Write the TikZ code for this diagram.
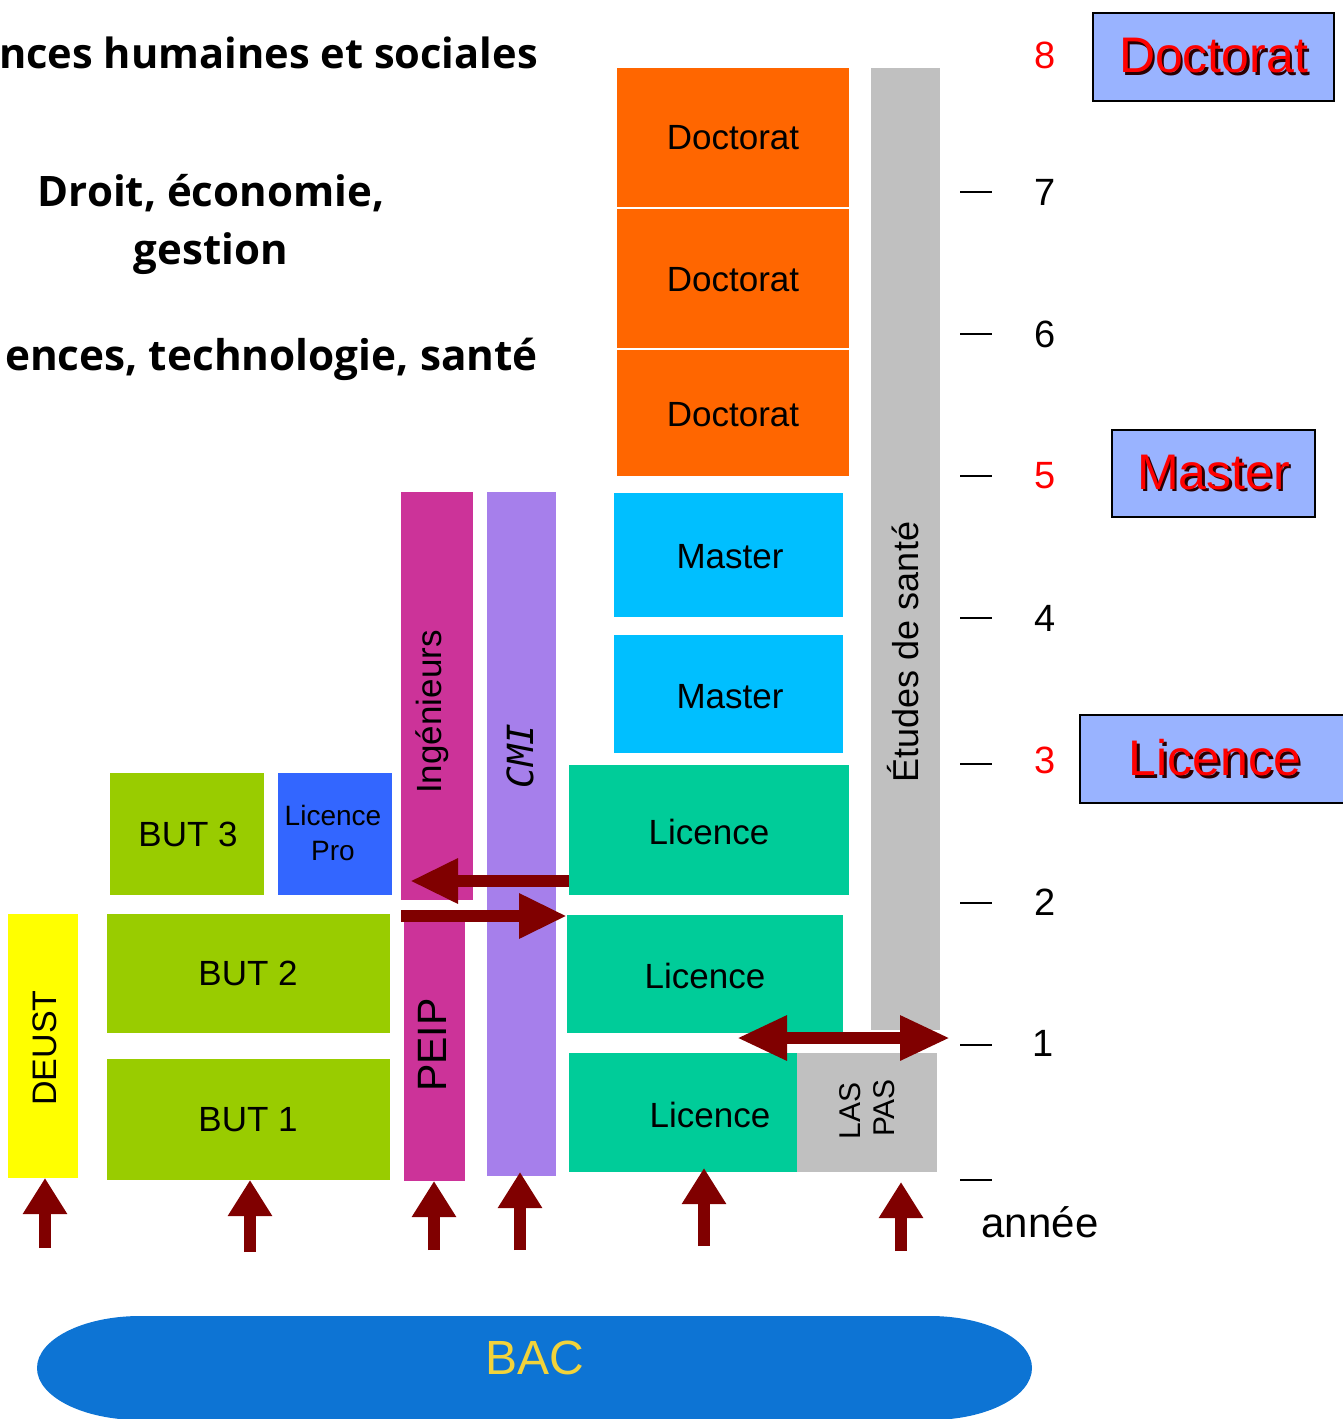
\documentclass[tikz,border=0pt]{standalone}
\usepackage{fontspec}
\setmainfont{Liberation Sans}
\newfontfamily\titlefont{Open Sans}
\newfontfamily\cmifont{DejaVu Sans Mono}
\usetikzlibrary{arrows.meta,calc}
\definecolor{orng}{HTML}{FF6600}
\definecolor{cyanb}{HTML}{00BFFF}
\definecolor{licgreen}{HTML}{00CC99}
\definecolor{greyb}{HTML}{C0C0C0}
\definecolor{magb}{HTML}{CC3399}
\definecolor{lavb}{HTML}{A67FEB}
\definecolor{limeb}{HTML}{99CC00}
\definecolor{problue}{HTML}{3366FF}
\definecolor{yelb}{HTML}{FFFF00}
\definecolor{arrred}{HTML}{800000}
\definecolor{peri}{HTML}{99B3FF}
\definecolor{bacblue}{HTML}{0D74D4}
\definecolor{bacyel}{HTML}{F2D33A}
\definecolor{redtxt}{HTML}{FF0000}
\definecolor{shad}{HTML}{2A0000}
\newcommand\mybox[7][]{%
  \node[blk,fill=#3,minimum width={(#6)-(#4)},minimum height={(#7)-(#5)},#1] (#2) at ({((#4)+(#6))/2},{((#5)+(#7))/2}) {};}
\newcommand\shadowed[1]{\makebox[0pt][l]{\hspace*{2.5pt}\raisebox{-2.5pt}{\color{shad}#1}}#1}
\begin{document}
\begin{tikzpicture}[x=1pt,y=-1pt,
  blk/.style={draw=none,inner sep=0pt,outer sep=0pt,rectangle},
  lbl/.style={font=\fontsize{35}{40}\selectfont,inner sep=0pt},
  vlbl/.style={lbl,rotate=90},
  title/.style={font=\titlefont\bfseries\fontsize{42}{50}\selectfont,inner sep=0pt},
  yr/.style={font=\fontsize{38}{40}\selectfont,inner sep=0pt},
  yrred/.style={yr,text=redtxt},
  tickline/.style={line width=2.5pt,black},
  bigbox/.style={draw=black,line width=2.5pt,fill=peri,inner sep=0pt,rectangle},
  bigred/.style={font=\fontsize{50}{56}\selectfont,text=redtxt,inner sep=0pt},
  uparr/.style={draw=arrred,line width=12pt,-{Triangle[width=42pt,length=36pt]}},
  harr/.style={draw=arrred,line width=12pt,-{Triangle[width=42pt,length=48pt]}},
  dharr/.style={draw=arrred,line width=12pt,{Triangle[width=42pt,length=50pt]}-{Triangle[width=42pt,length=50pt]}}
]
\useasboundingbox (0,0) rectangle (1343,1419);
\clip (0,0) rectangle (1343,1419);

% titles
\node[title,anchor=base east,font=\titlefont\bfseries\fontsize{41.6}{50}\selectfont] (t1) at (538,68) {nces humaines et sociales};
\node[title,anchor=base] (t2a) at (211,206) {Droit, économie,};
\node[title,anchor=base] (t2b) at (211,264) {gestion};
\node[title,anchor=base east,font=\titlefont\bfseries\fontsize{42.3}{50}\selectfont] (t3) at (538,370) {ences, technologie, santé};

% Doctorat column
\mybox{doc3}{orng}{617}{68}{849}{207}
\mybox{doc2}{orng}{617}{209}{849}{348}
\mybox{doc1}{orng}{617}{350}{849}{476}
\node[lbl] at (733,138) {Doctorat};
\node[lbl] at (733,280) {Doctorat};
\node[lbl] at (733,415) {Doctorat};
% Master
\mybox{mas2}{cyanb}{614}{493}{843}{617}
\mybox{mas1}{cyanb}{614}{635}{843}{753}
\node[lbl] at (730,557) {Master};
\node[lbl] at (730,697) {Master};
% Licence
\mybox{lic3}{licgreen}{569}{765}{849}{895}
\mybox{lic2}{licgreen}{567}{915}{843}{1033}
\mybox{lic1}{licgreen}{569}{1053}{797}{1172}
\node[lbl] at (709,832) {Licence};
\node[lbl] at (705,976) {Licence};
\node[lbl] (lic1t) at (710,1115) {Licence};
\mybox{las}{greyb}{797}{1053}{937}{1172}
\node[lbl,font=\fontsize{30}{34}\selectfont,rotate=90] (last) at (850,1111) {LAS};
\node[lbl,font=\fontsize{30}{34}\selectfont,rotate=90] (past) at (884,1108) {PAS};
% Etudes de sante
\mybox{sante}{greyb}{871}{68}{940}{1030}
\node[vlbl,font=\fontsize{36}{40}\selectfont] (santet) at (903,652) {Études de santé};
% Ingenieurs, PEIP, CMI
\mybox{ing}{magb}{401}{492}{473}{900}
\node[vlbl] (ingt) at (432,712) {Ingénieurs};
\mybox{peip}{magb}{404}{910}{465}{1181}
\node[vlbl,font=\fontsize{41}{45}\selectfont] (peipt) at (432,1045) {PEIP};
\mybox{cmi}{lavb}{487}{492}{556}{1176}
\node[vlbl,font=\cmifont\itshape\fontsize{36}{40}\selectfont] (cmit) at (520,756) {CMI};
% BUT
\mybox{but3}{limeb}{110}{773}{264}{895}
\node[lbl] at (188,834) {BUT 3};
\mybox{lpro}{problue}{278}{773}{392}{895}
\node[lbl,font=\fontsize{28}{35}\selectfont,align=center] at (333,833) {Licence\\Pro};
\mybox{but2}{limeb}{107}{914}{390}{1033}
\node[lbl] at (248,973) {BUT 2};
\mybox{but1}{limeb}{107}{1059}{390}{1180}
\node[lbl] at (248,1120) {BUT 1};
\mybox{deust}{yelb}{8}{914}{78}{1178}
\node[vlbl,font=\fontsize{34}{38}\selectfont] (deustt) at (45,1048) {DEUST};

% year scale
\foreach \yy in {192,334,476,618,764,903,1045,1180}
  \draw[tickline] (960,\yy) -- (992,\yy);
\node[yrred] (y8) at (1045,55) {8};
\node[yr] (y7) at (1045,192) {7};
\node[yr] (y6) at (1045,334) {6};
\node[yrred] (y5) at (1045,476) {5};
\node[yr] (y4) at (1045,618) {4};
\node[yrred] (y3) at (1045,760) {3};
\node[yr] (y2) at (1045,902) {2};
\node[yr] (y1) at (1043,1043) {1};
\node[yr,font=\fontsize{42}{46}\selectfont] (annee) at (1040,1222) {année};

% right boxes
\node[bigbox,minimum width=241pt,minimum height=88pt] (rdoc) at (1213.5,57) {};
\node[bigbox,minimum width=203pt,minimum height=87pt] (rmas) at (1213.5,473.5) {};
\node[bigbox,minimum width=270pt,minimum height=88pt] (rlic) at (1215,759) {};
\node[bigred] (rdoct) at (rdoc.center) {\shadowed{Doctorat}};
\node[bigred] (rmast) at (rmas.center) {\shadowed{Master}};
\node[bigred] (rlict) at (rlic.center) {\shadowed{Licence}};

% BAC
\fill[bacblue] (140,1316) -- (930,1316) arc[start angle=-90,end angle=90,x radius=102,y radius=52]
  -- (140,1420) arc[start angle=90,end angle=270,x radius=103,y radius=52] -- cycle;
\node[inner sep=0pt,text=bacyel,font=\fontsize{48}{52}\selectfont] (bac) at (535,1358) {BAC};

% horizontal arrows
\coordinate (ya) at (0,881);
\coordinate (yb) at (0,916);
\draw[harr,shorten >=9pt] (lic3.west |- ya) -- (ing.west |- ya);
\draw[harr] (ing.west |- yb) -- (lic2.west |- yb);
\coordinate (dl) at (737,1038);
\coordinate (dr) at (950,1038);
\draw[dharr] (dl) -- (dr);

% up arrows from BAC
\coordinate (u1) at (45,1248);
\coordinate (u2) at (250,1252);
\coordinate (u3) at (434,1250);
\coordinate (u4) at (520,1250);
\coordinate (u5) at (704,1246);
\coordinate (u6) at (901,1251);
\draw[uparr] (u1) -- (u1 |- deust.south);
\draw[uparr] (u2) -- (u2 |- but1.south);
\draw[uparr] (u3) -- (u3 |- peip.south);
\draw[uparr,shorten >=-4pt] (u4) -- (u4 |- cmi.south);
\draw[uparr,shorten >=-4pt] (u5) -- (u5 |- lic1.south);
\draw[uparr,shorten >=10pt] (u6) -- (u6 |- las.south);
\end{tikzpicture}
\end{document}
